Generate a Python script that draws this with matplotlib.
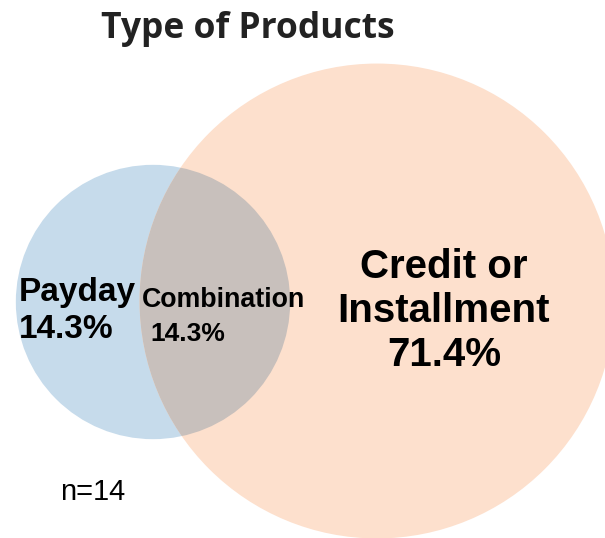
import matplotlib
matplotlib.use('Agg')
import matplotlib.pyplot as plt
from matplotlib.patches import Circle
import numpy as np

# data
set_names = ['Payday', 'Combination', 'Credit or\nInstallment']
shares = [14.3, 14.3, 71.4]
n_total = 14
title = 'Type of Products'

payday_total = shares[0] + shares[1]
credit_total = shares[1] + shares[2]

fig = plt.figure(figsize=(6.05, 5.38), dpi=100)
ax = fig.add_axes([0, 0, 1, 1])
ax.set_xlim(0, 605)
ax.set_ylim(538, 0)
ax.set_aspect('equal')
ax.axis('off')

k = 25.65  # radius per sqrt(percent)
r_blue = k * np.sqrt(payday_total)
r_orange = k * np.sqrt(credit_total)

blue = Circle((153, 302), r_blue, facecolor='#c6dbeb', edgecolor='none')
orange = Circle((377, 301), r_orange, facecolor='#fde0cd', edgecolor='none')
ax.add_patch(blue)
ax.add_patch(orange)
both = Circle((153, 302), r_blue, facecolor='#c8c0bc', edgecolor='none')
ax.add_patch(both)
both.set_clip_path(orange)

font = ['Liberation Sans', 'DejaVu Sans']
ax.text(19, 292, set_names[0], ha='left', va='center', fontsize=24,
        fontweight='bold', family=font)
ax.text(19, 329, f'{shares[0]}%', ha='left', va='center', fontsize=24,
        fontweight='bold', family=font)
ax.text(142, 300, set_names[1], ha='left', va='center', fontsize=19.3,
        fontweight='bold', family=font)
ax.text(150, 334, f'{shares[1]}%', ha='left', va='center', fontsize=19,
        fontweight='bold', family=font)
ax.text(444, 311, f'{set_names[2]}\n{shares[2]}%', ha='center', va='center',
        fontsize=29, fontweight='bold', family=font, linespacing=1.2)
ax.text(60, 492, f'n={n_total}', ha='left', va='center', fontsize=21,
        family=font)

ax.text(248, 29, title, ha='center', va='center', fontsize=25.5,
        fontweight='bold', family=['Open Sans', 'DejaVu Sans'], color='#222222')

fig.savefig('out.png', dpi=100)
